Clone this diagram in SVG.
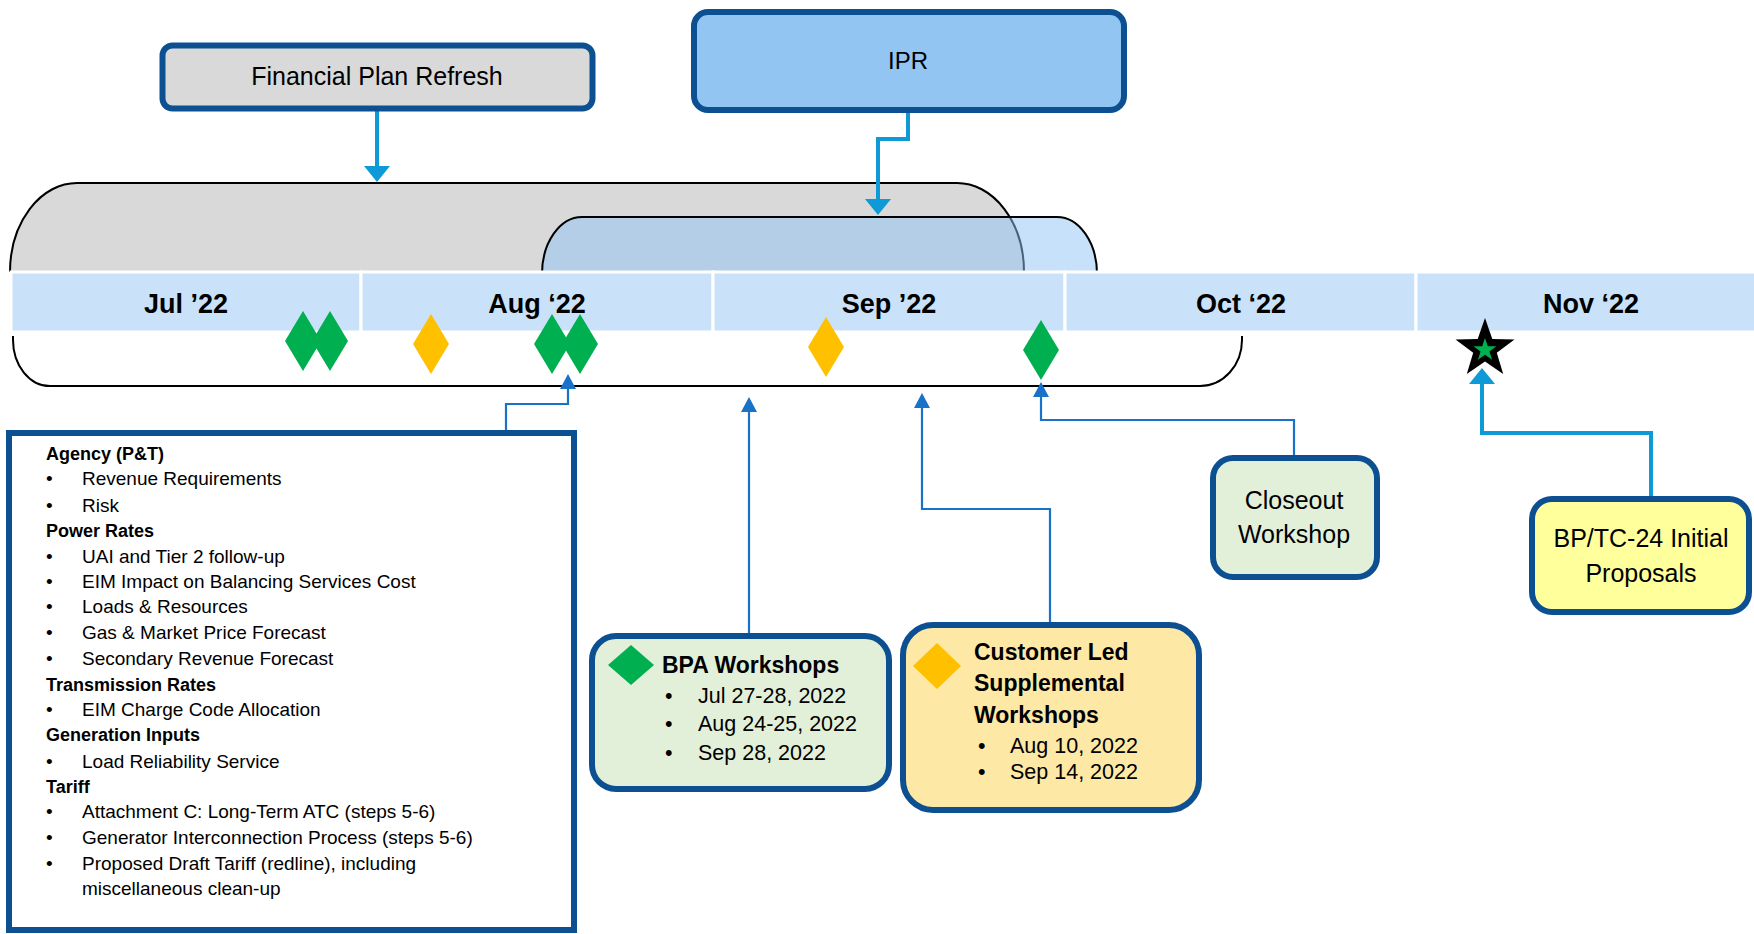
<svg xmlns="http://www.w3.org/2000/svg" width="1754" height="934" viewBox="0 0 1754 934">
<defs>
<style>
text{font-family:"Liberation Sans",Arial,sans-serif;fill:#000}
.box{stroke:#0d5092;stroke-width:6}
.lbl{font-size:25px;text-anchor:middle}
.mon{font-size:27px;font-weight:bold;text-anchor:middle}
.li{font-size:19px}
.lh{font-size:18px;font-weight:bold}
.lg{font-size:23px;font-weight:bold}
.ld{font-size:21.5px}
.cl{fill:none;stroke:#0e9ad7;stroke-width:4}
.cd{fill:none;stroke:#1a72c8;stroke-width:2.2}
.g{fill:#00b050}
.y{fill:#ffc000}
.bar{fill:#c9e2f9;stroke:#fff;stroke-width:3}
</style>
<marker id="ahL" markerUnits="userSpaceOnUse" markerWidth="17" markerHeight="27" refX="0" refY="13" orient="auto" overflow="visible">
<path d="M0,0 L16,13 L0,26 Z" fill="#0e9ad7"/>
</marker>
<marker id="ahD" markerUnits="userSpaceOnUse" markerWidth="16" markerHeight="17" refX="0" refY="8" orient="auto" overflow="visible">
<path d="M0,0 L15,8 L0,16 Z" fill="#1a72c8"/>
</marker>
<path id="dm" d="M0,-30 L18,0 L0,30 L-18,0 Z"/>
</defs>

<g id="phases">
<path d="M10,272 A67,89 0 0 1 77,183 L957,183 A67,89 0 0 1 1024,272" fill="#d9d9d9" stroke="#000" stroke-width="2"/>
<path d="M542,274 A40,57 0 0 1 582,217 L1057,217 A40,57 0 0 1 1097,274" fill="rgb(141,196,243)" fill-opacity="0.5" stroke="#000" stroke-width="2"/>
<path d="M13,336 L13,340 A37,46 0 0 0 50,386 L1200,386 A42,46 0 0 0 1242,340 L1242,336" fill="none" stroke="#000" stroke-width="2"/>
</g>

<g id="timeline">
<rect class="bar" x="11" y="272" width="350" height="60"/>
<rect class="bar" x="361" y="272" width="352" height="60"/>
<rect class="bar" x="713" y="272" width="352" height="60"/>
<rect class="bar" x="1065" y="272" width="351" height="60"/>
<rect class="bar" x="1416" y="272" width="345" height="60"/>
<text class="mon" x="186" y="313">Jul ’22</text>
<text class="mon" x="537" y="313">Aug ‘22</text>
<text class="mon" x="889" y="313">Sep ’22</text>
<text class="mon" x="1241" y="313">Oct ‘22</text>
<text class="mon" x="1591" y="313">Nov ‘22</text>
</g>

<g id="milestones">
<use href="#dm" class="g" x="303" y="341"/>
<use href="#dm" class="g" x="330" y="341"/>
<use href="#dm" class="y" x="431" y="344"/>
<use href="#dm" class="g" x="552" y="344"/>
<use href="#dm" class="g" x="580" y="344"/>
<use href="#dm" class="y" x="826" y="347"/>
<use href="#dm" class="g" x="1041" y="350"/>
<g id="star">
<polygon points="1485,318 1492.3,339 1514.5,339.4 1496.8,352.8 1503.2,374.1 1485,361.4 1466.8,374.1 1473.2,352.8 1455.5,339.4 1477.7,339" fill="#000"/>
<polygon points="1485,338 1487.8,346.2 1496.4,346.3 1489.5,351.5 1492.1,359.7 1485,354.8 1477.9,359.7 1480.5,351.5 1473.6,346.3 1482.2,346.2" fill="#00b050"/>
</g>
</g>

<g id="connectors">
<path class="cl" d="M377,111 V166" marker-end="url(#ahL)"/>
<path class="cl" d="M908,113 V139 H878 V199" marker-end="url(#ahL)"/>
<path class="cl" d="M1651,497 V433 H1482 V384" marker-end="url(#ahL)"/>
<path class="cd" d="M506,432 V404 H568 V389" marker-end="url(#ahD)"/>
<path class="cd" d="M749,633 V412" marker-end="url(#ahD)"/>
<path class="cd" d="M1050,622 V509 H922 V408" marker-end="url(#ahD)"/>
<path class="cd" d="M1294,456 V420 H1041 V397" marker-end="url(#ahD)"/>
</g>

<g id="financial-plan-refresh">
<rect class="box" x="162.5" y="45.5" width="430" height="63" rx="10" fill="#d9d9d9" stroke-width="5"/>
<text class="lbl" x="377" y="85">Financial Plan Refresh</text>
</g>

<g id="ipr">
<rect class="box" x="694" y="12" width="430" height="98" rx="14" fill="#93c5f3"/>
<text class="lbl" x="908" y="69" style="font-size:24px">IPR</text>
</g>

<g id="closeout-workshop">
<rect class="box" x="1213" y="458" width="164" height="119" rx="20" fill="#e2f0d9"/>
<text class="lbl" x="1294" y="509">Closeout</text>
<text class="lbl" x="1294" y="543">Workshop</text>
</g>

<g id="initial-proposals">
<rect class="box" x="1532" y="499" width="217" height="113" rx="20" fill="#ffff9c"/>
<text class="lbl" x="1641" y="547">BP/TC-24 Initial</text>
<text class="lbl" x="1641" y="582">Proposals</text>
</g>

<g id="bpa-workshops">
<rect class="box" x="592" y="636" width="297" height="153" rx="24" fill="#e2f0d9"/>
<path d="M631,645 L654,665 L631,685 L608,665 Z" class="g"/>
<text class="lg" x="662" y="673">BPA Workshops</text>
<text class="ld" x="665" y="703">•</text><text class="ld" x="698" y="703">Jul 27-28, 2022</text>
<text class="ld" x="665" y="731">•</text><text class="ld" x="698" y="731">Aug 24-25, 2022</text>
<text class="ld" x="665" y="760">•</text><text class="ld" x="698" y="760">Sep 28, 2022</text>
</g>

<g id="customer-led-workshops">
<rect class="box" x="903" y="625" width="296" height="185" rx="30" fill="#fee8a6"/>
<path d="M937,643 L961,666 L937,689 L913,666 Z" class="y"/>
<text class="lg" x="974" y="660">Customer Led</text>
<text class="lg" x="974" y="691">Supplemental</text>
<text class="lg" x="974" y="723">Workshops</text>
<text class="ld" x="978" y="753">•</text><text class="ld" x="1010" y="753">Aug 10, 2022</text>
<text class="ld" x="978" y="779">•</text><text class="ld" x="1010" y="779">Sep 14, 2022</text>
</g>

<g id="topics">
<rect class="box" x="9" y="433" width="565" height="497" fill="#fff"/>
<text class="lh" x="46" y="460">Agency (P&amp;T)</text>
<text class="li" x="46" y="485">•</text><text class="li" x="82" y="485">Revenue Requirements</text>
<text class="li" x="46" y="512">•</text><text class="li" x="82" y="512">Risk</text>
<text class="lh" x="46" y="537">Power Rates</text>
<text class="li" x="46" y="563">•</text><text class="li" x="82" y="563">UAI and Tier 2 follow-up</text>
<text class="li" x="46" y="588">•</text><text class="li" x="82" y="588">EIM Impact on Balancing Services Cost</text>
<text class="li" x="46" y="613">•</text><text class="li" x="82" y="613">Loads &amp; Resources</text>
<text class="li" x="46" y="639">•</text><text class="li" x="82" y="639">Gas &amp; Market Price Forecast</text>
<text class="li" x="46" y="665">•</text><text class="li" x="82" y="665">Secondary Revenue Forecast</text>
<text class="lh" x="46" y="691">Transmission Rates</text>
<text class="li" x="46" y="716">•</text><text class="li" x="82" y="716">EIM Charge Code Allocation</text>
<text class="lh" x="46" y="741">Generation Inputs</text>
<text class="li" x="46" y="768">•</text><text class="li" x="82" y="768">Load Reliability Service</text>
<text class="lh" x="46" y="793">Tariff</text>
<text class="li" x="46" y="818">•</text><text class="li" x="82" y="818">Attachment C: Long-Term ATC (steps 5-6)</text>
<text class="li" x="46" y="844">•</text><text class="li" x="82" y="844">Generator Interconnection Process (steps 5-6)</text>
<text class="li" x="46" y="870">•</text><text class="li" x="82" y="870">Proposed Draft Tariff (redline), including</text>
<text class="li" x="82" y="895">miscellaneous clean-up</text>
</g>
</svg>
